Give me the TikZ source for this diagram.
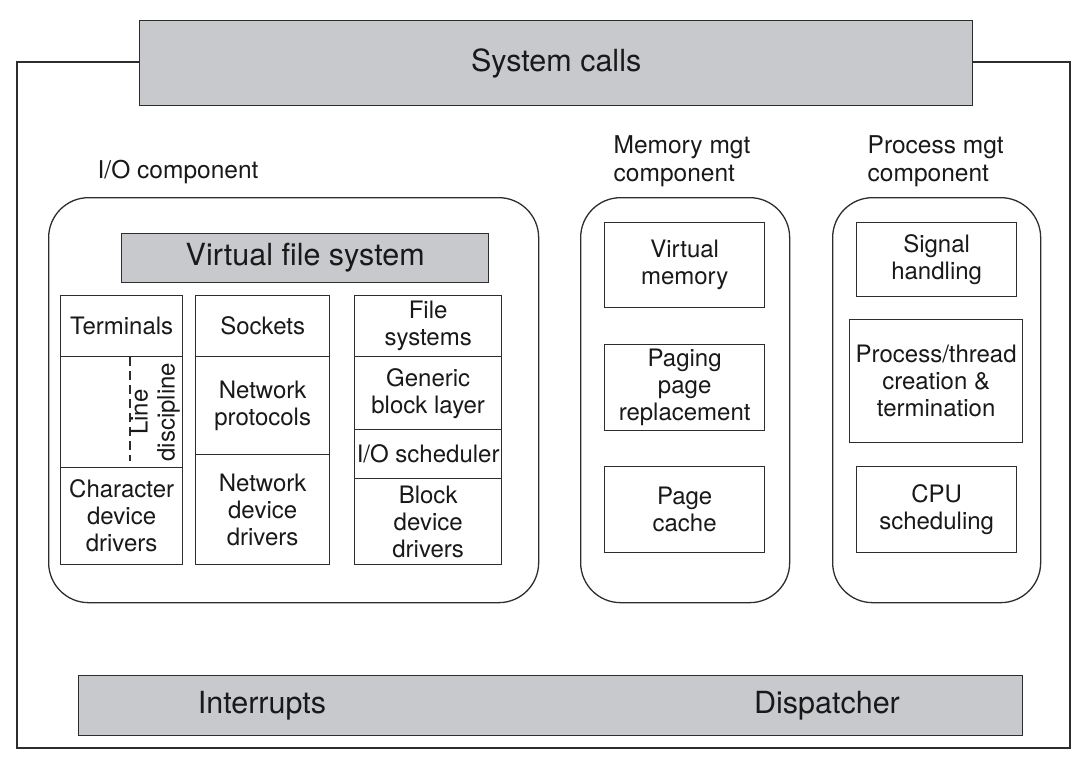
\documentclass[tikz,border=0pt]{standalone}
\usepackage{fontspec}
\setmainfont{TeX Gyre Heros}
\definecolor{linec}{RGB}{45,45,45}
\definecolor{textc}{RGB}{25,25,25}
\definecolor{barfill}{RGB}{200,201,204}
\newcommand{\bigtxt}{\fontsize{30.5}{34}\selectfont}
\newcommand{\boxtxt}{\fontsize{24}{27}\selectfont}
\newcommand{\labtxt}{\fontsize{24.5}{28}\selectfont}
\begin{document}
\begin{tikzpicture}[x=1pt,y=-1pt,line width=1.3pt,
  cell/.style={draw=linec,fill=white,text=textc,align=center,inner sep=0pt,
               font=\boxtxt,anchor=north west},
  bar/.style={draw=linec,fill=barfill,text=textc,inner sep=0pt,
              font=\bigtxt,anchor=north west},
  group/.style={draw=linec,rounded corners=40pt,inner sep=0pt,anchor=north west},
  label/.style={text=textc,font=\labtxt,align=left,inner sep=0pt,anchor=west},
  plain/.style={text=textc,font=\bigtxt,inner sep=0pt}]
\useasboundingbox (0,0) rectangle (1091,764);

% outer frame of the kernel
\draw[linec] (17,62) rectangle (1070,748);

% system call interface
\node[bar,minimum width=833,minimum height=85] (syscalls) at (139,20) {System calls};

% the three components
\node[label] (iolab) at (97,172) {I/O component};
\node[label] (memlab) at (613,161) {Memory mgt\\component};
\node[label] (proclab) at (867,161) {Process mgt\\component};

\node[group,minimum width=490,minimum height=405] (iogroup) at (48,197) {};
\node[group,minimum width=209,minimum height=405] (memgroup) at (580,197) {};
\node[group,minimum width=208,minimum height=405] (procgroup) at (832,197) {};

% I/O component
\node[bar,minimum width=367,minimum height=49] (vfs) at (121,233) {Virtual file system};

\node[cell,minimum width=122,minimum height=61] (term) at (60,295) {Terminals};
\node[cell,minimum width=122,minimum height=111] (ldisc) at (60,356) {};
\node[cell,minimum width=122,minimum height=97] (chard) at (60,467) {Character\\device\\drivers};
\draw[linec,dash pattern=on 9pt off 5pt] (130,357) -- (130,461);
\node[text=textc,font=\boxtxt,align=center,inner sep=0pt,rotate=90] (ldtext) at (155,412) {Line\\discipline};

\node[cell,minimum width=134,minimum height=61] (sock) at (195,295) {Sockets};
\node[cell,minimum width=134,minimum height=98] (netp) at (195,356) {Network\\protocols};
\node[cell,minimum width=134,minimum height=110] (netd) at (195,454) {Network\\device\\drivers};

\node[cell,minimum width=147,minimum height=61] (fs) at (354,295) {File\\systems};
\node[cell,minimum width=147,minimum height=73] (gbl) at (354,356) {Generic\\block layer};
\node[cell,minimum width=147,minimum height=49] (iosch) at (354,429) {I/O scheduler};
\node[cell,minimum width=147,minimum height=86] (bdd) at (354,478) {Block\\device\\drivers};

% memory management component
\node[cell,minimum width=160,minimum height=85] (vm) at (604,222) {Virtual\\memory};
\node[cell,minimum width=160,minimum height=86] (paging) at (604,344) {Paging\\page\\replacement};
\node[cell,minimum width=160,minimum height=86] (pcache) at (604,466) {Page\\cache};

% process management component
\node[cell,minimum width=160,minimum height=74] (sig) at (856,222) {Signal\\handling};
\node[cell,minimum width=173,minimum height=123] (proc) at (849,319) {Process/thread\\creation \&\\termination};
\node[cell,minimum width=160,minimum height=86] (cpu) at (856,466) {CPU\\scheduling};

% low-level layer
\node[bar,minimum width=944,minimum height=60] (lowbar) at (78,675) {};
\node[plain] (intr) at (262,706) {Interrupts};
\node[plain] (disp) at (827,706) {Dispatcher};
\end{tikzpicture}
\end{document}
